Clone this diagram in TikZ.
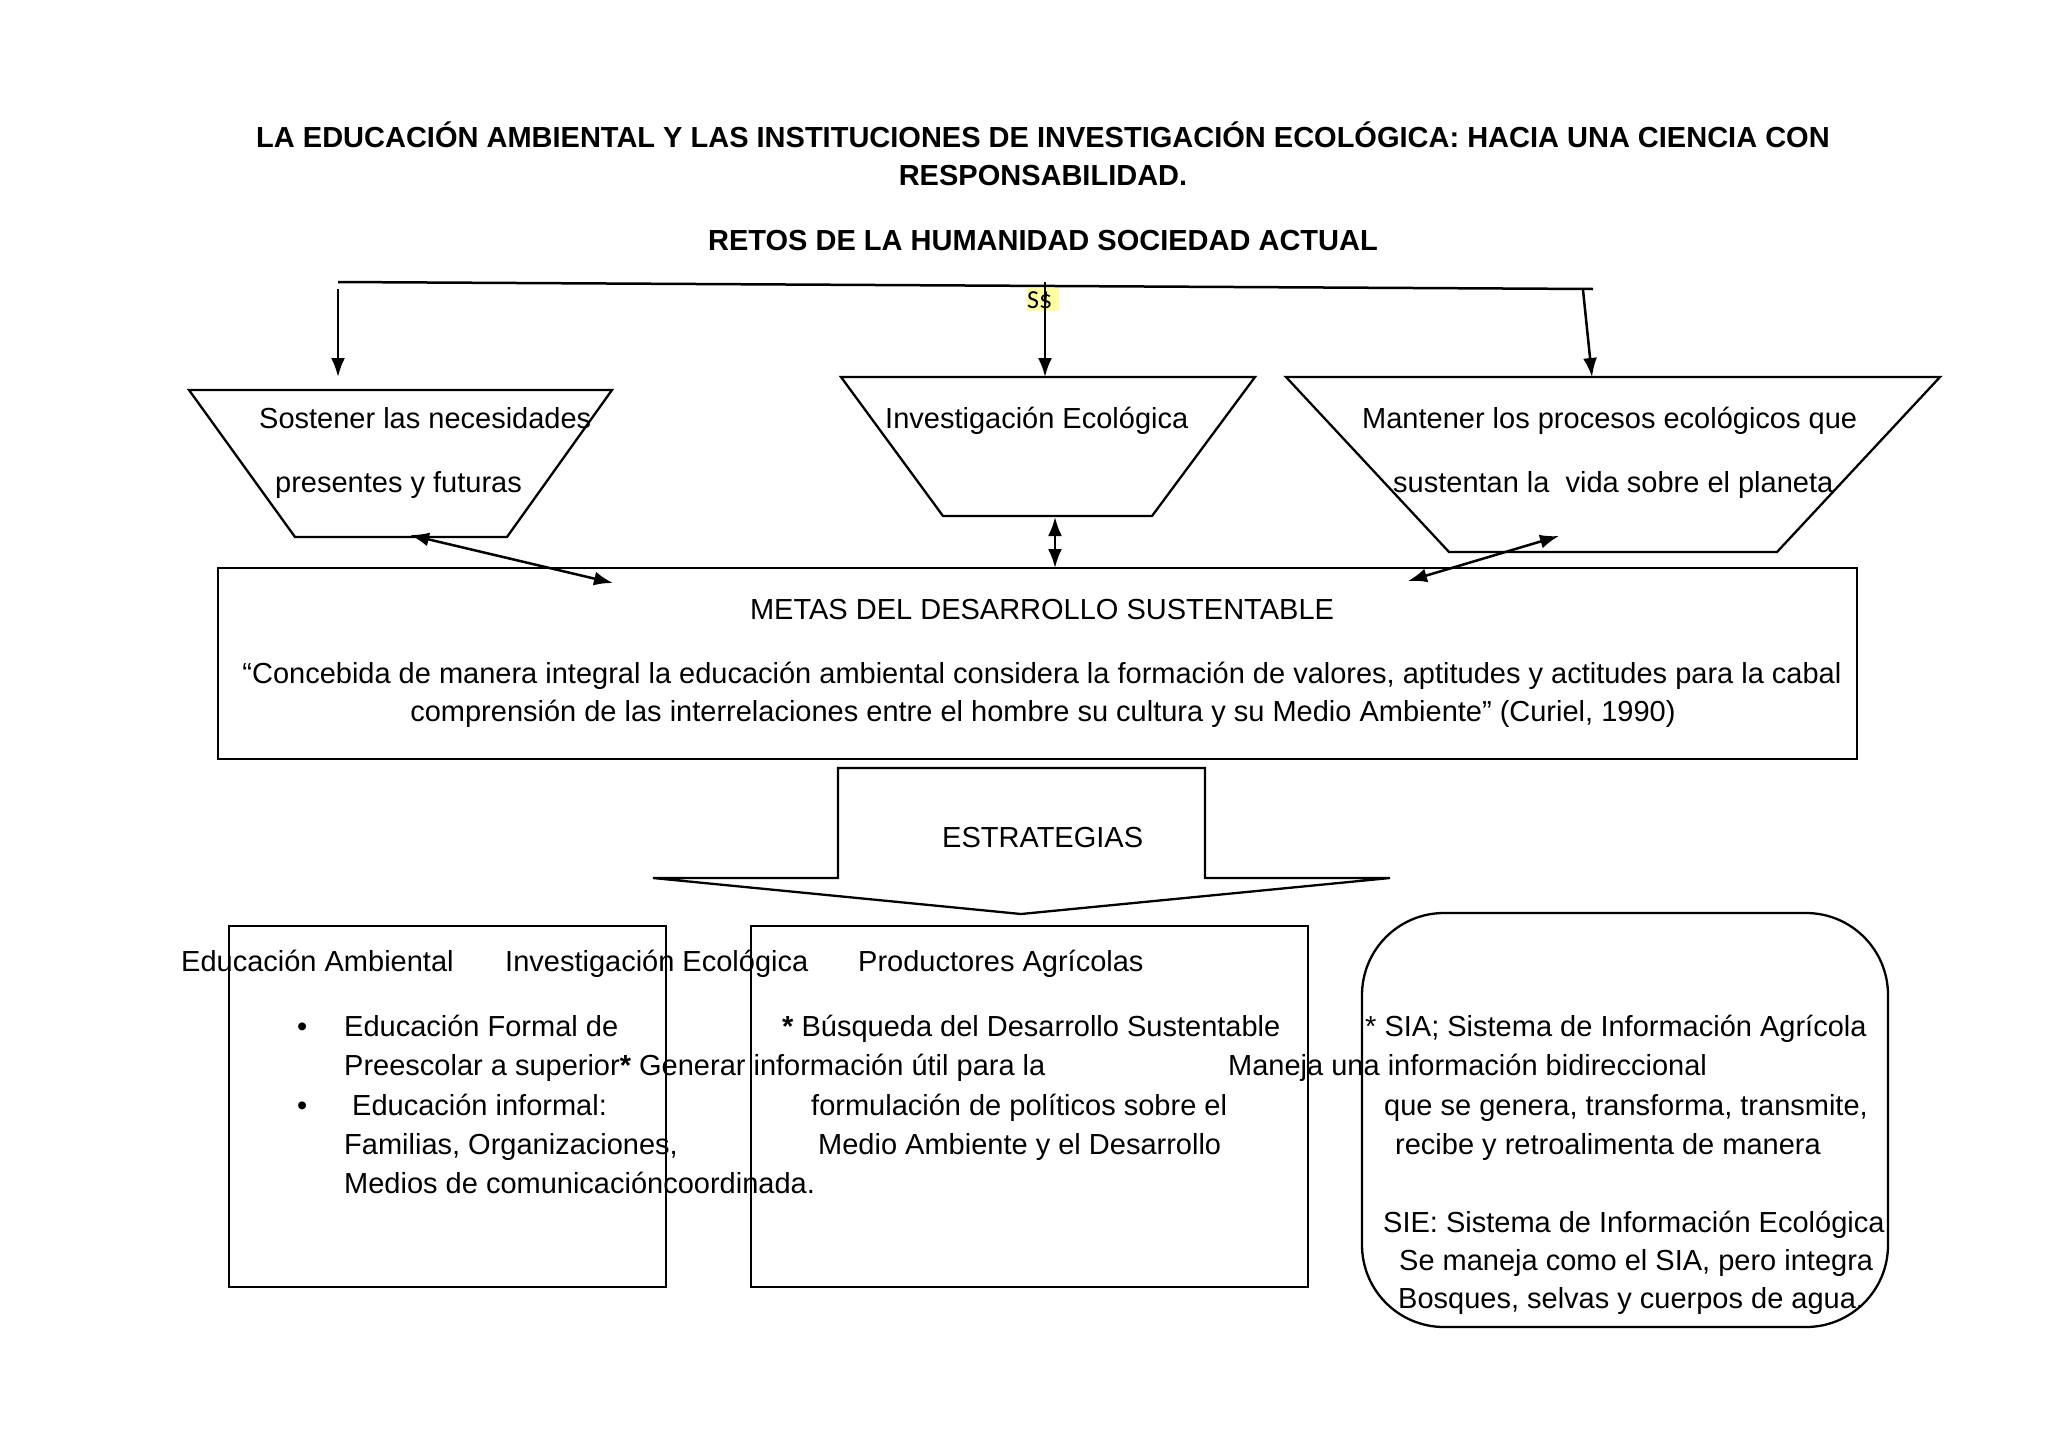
\documentclass[tikz,border=0pt]{standalone}
\usepackage{fontspec}
\setmainfont{Liberation Sans}
\newfontfamily\hlfont{Carlito}
\usetikzlibrary{arrows.meta}
\definecolor{hlyellow}{RGB}{255,255,160}
\begin{document}
\begin{tikzpicture}[x=1pt,y=-1pt,
  txt/.style={inner sep=0pt, anchor=base west, font=\fontsize{29}{39}\selectfont},
  ctxt/.style={inner sep=0pt, anchor=base, font=\fontsize{29}{39}\selectfont},
  ttl/.style={inner sep=0pt, anchor=base, font=\fontsize{29}{39}\selectfont\bfseries},
  shp/.style={draw, line width=2.3pt, line join=miter},
  conn/.style={line width=2.5pt},
  sgl/.style={conn, -{Latex[length=19pt,width=14pt]}},
  dbl/.style={conn, {Latex[length=19pt,width=14pt]}-{Latex[length=19pt,width=14pt]}}]
\useasboundingbox (0,0) rectangle (2048,1448);

% titles
\node[ttl] (title1) at (1043,147) {LA EDUCACIÓN AMBIENTAL Y LAS INSTITUCIONES DE INVESTIGACIÓN ECOLÓGICA: HACIA UNA CIENCIA CON};
\node[ttl] (title2) at (1043,185) {RESPONSABILIDAD.};
\node[ttl] (title3) at (1043,250) {RETOS DE LA HUMANIDAD SOCIEDAD ACTUAL};

% top distribution line
\coordinate (topL) at (338,282);
\coordinate (topR) at (1593,289);
\draw[conn] (topL) -- (topR);

% S$ label
\fill[hlyellow] (1027,288) rectangle (1059,311);
\node[inner sep=0pt, anchor=base west, font=\hlfont\fontsize{26}{30}\selectfont] (ss) at (1027,308) {S\$};

% trapezoids
\coordinate (t1tl) at (189,390); \coordinate (t1tr) at (612,390);
\coordinate (t1br) at (507,537); \coordinate (t1bl) at (295,537);
\draw[shp] (t1tl) -- (t1tr) -- (t1br) -- (t1bl) -- cycle;
\coordinate (t2tl) at (841,377); \coordinate (t2tr) at (1255,377);
\coordinate (t2br) at (1152,516); \coordinate (t2bl) at (943,516);
\draw[shp] (t2tl) -- (t2tr) -- (t2br) -- (t2bl) -- cycle;
\coordinate (t3tl) at (1286,377); \coordinate (t3tr) at (1940,377);
\coordinate (t3br) at (1777,552); \coordinate (t3bl) at (1449,552);
\draw[shp] (t3tl) -- (t3tr) -- (t3br) -- (t3bl) -- cycle;

\node[txt] (t1a) at (259,428) {Sostener las necesidades};
\node[txt] (t1b) at (275,492) {presentes y futuras};
\node[txt] (t2a) at (885,428) {Investigación Ecológica};
\node[txt] (t3a) at (1362,428) {Mantener los procesos ecológicos que};
\node[txt] (t3b) at (1393,492) {sustentan la\ \ vida sobre el planeta};

% top arrows
\coordinate (a1s) at (338,289); \coordinate (a1e) at (338,377);
\coordinate (a2s) at (1045,282); \coordinate (a2e) at (1045,377);
\coordinate (a3s) at (1583,290); \coordinate (a3e) at (1592,377);
\draw[sgl] (a1s) -- (a1e);
\draw[sgl] (a2s) -- (a2e);
\draw[sgl] (a3s) -- (a3e);

% main box
\node[shp, minimum width=1639, minimum height=191, inner sep=0pt] (metas) at (1037.5,663.5) {};
\node[ctxt] (metasT) at (1042,619) {METAS DEL DESARROLLO SUSTENTABLE};
\node[ctxt] (q1) at (1042,683) {“Concebida de manera integral la educación ambiental considera la formación de valores, aptitudes y actitudes para la cabal};
\node[ctxt] (q2) at (1043,721) {comprensión de las interrelaciones entre el hombre su cultura y su Medio Ambiente” (Curiel, 1990)};

% double arrows
\coordinate (d1a) at (410,535); \coordinate (d1b) at (613,583);
\coordinate (d2a) at (1055,517); \coordinate (d2b) at (1055,568);
\coordinate (d3a) at (1559,536); \coordinate (d3b) at (1408,581);
\draw[dbl] (d1a) -- (d1b);
\draw[dbl] (d2a) -- (d2b);
\draw[dbl] (d3a) -- (d3b);

% ESTRATEGIAS block arrow
\draw[shp] (838,768) -- (1205,768) -- (1205,878) -- (1390,878) -- (1021,914) -- (653,878) -- (838,878) -- cycle;
\node[txt] (estr) at (942,847) {ESTRATEGIAS};

% bottom boxes
\draw[shp] (229,926) rectangle (666,1287);
\draw[shp] (751,926) rectangle (1308,1287);
\draw[shp, rounded corners=82pt] (1362,913) rectangle (1888,1327);

% headings
\node[txt] (h1) at (181,971) {Educación Ambiental};
\node[txt] (h2) at (505,971) {Investigación Ecológica};
\node[txt] (h3) at (858,971) {Productores Agrícolas};

% box 1 text
\node[txt] (bul1) at (297,1036) {•};
\node[txt] (e1) at (344,1036) {Educación Formal de};
\node[txt] (e2) at (344,1075) {Preescolar a superior\textbf{*} Generar información útil para la};
\node[txt] (bul2) at (297,1115) {•};
\node[txt] (e3) at (352,1115) {Educación informal:};
\node[txt] (e4) at (344,1154) {Familias, Organizaciones,};
\node[txt] (e5) at (344,1193) {Medios de comunicacióncoordinada.};

% box 2 text
\node[txt] (i1) at (782,1036) {\textbf{*} Búsqueda del Desarrollo Sustentable};
\node[txt] (i2) at (811,1115) {formulación de políticos sobre el};
\node[txt] (i3) at (818,1154) {Medio Ambiente y el Desarrollo};

% box 3 text
\node[txt] (s1) at (1365,1036) {* SIA; Sistema de Información Agrícola};
\node[txt] (s2) at (1228,1075) {Maneja una información bidireccional};
\node[txt] (s3) at (1384,1115) {que se genera, transforma, transmite,};
\node[txt] (s4) at (1395,1154) {recibe y retroalimenta de manera};
\node[txt] (s5) at (1383,1232) {SIE: Sistema de Información Ecológica};
\node[txt] (s6) at (1399,1270) {Se maneja como el SIA, pero integra};
\node[txt] (s7) at (1398,1308) {Bosques, selvas y cuerpos de agua.};
\end{tikzpicture}
\end{document}
